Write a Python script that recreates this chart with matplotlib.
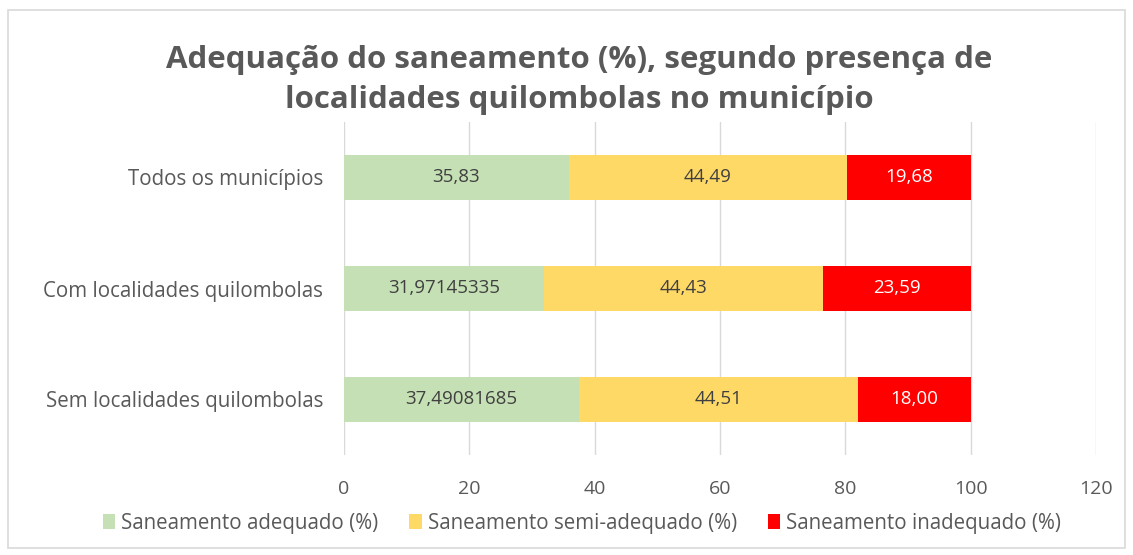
import numpy as np
import matplotlib
matplotlib.use("Agg")
import matplotlib.pyplot as plt
from matplotlib.patches import Rectangle

plt.rcParams['font.family'] = ['Open Sans', 'DejaVu Sans']

categories = ["Sem localidades quilombolas", "Com localidades quilombolas", "Todos os municípios"]
adequado = [37.49081685, 31.97145335, 35.83]
semi = [44.51, 44.43, 44.49]
inadequado = [18.00, 23.59, 19.68]
lab_adequado = ["37,49081685", "31,97145335", "35,83"]
lab_semi = ["44,51", "44,43", "44,49"]
lab_inadequado = ["18,00", "23,59", "19,68"]
series_names = ["Saneamento adequado (%)", "Saneamento semi-adequado (%)", "Saneamento inadequado (%)"]
colors = ["#C5E0B4", "#FFD966", "#FF0000"]

txt = "#595959"

fig = plt.figure(figsize=(11.33, 5.55), dpi=100)
fig.patches.append(Rectangle((8/1133, 1 - 548/555), 1117/1133, 538/555, transform=fig.transFigure,
                             fill=False, edgecolor="#D9D9D9", linewidth=1.2))
ax = fig.add_axes([344/1133, 1 - 455/555, (1096 - 344)/1133, (455 - 122)/555])

y = np.arange(len(categories))
h = 0.4
b1 = ax.barh(y, adequado, height=h, color=colors[0], label=series_names[0], zorder=3)
b2 = ax.barh(y, semi, height=h, left=adequado, color=colors[1], label=series_names[1], zorder=3)
left3 = np.array(adequado) + np.array(semi)
b3 = ax.barh(y, inadequado, height=h, left=left3, color=colors[2], label=series_names[2], zorder=3)

ax.bar_label(b1, labels=lab_adequado, label_type="center", color="#404040", fontsize=13.5)
ax.bar_label(b2, labels=lab_semi, label_type="center", color="#404040", fontsize=13.5)
ax.bar_label(b3, labels=lab_inadequado, label_type="center", color="white", fontsize=13.5)

ax.set_xlim(0, 120)
ax.set_ylim(-0.5, 2.5)
ax.set_xticks(np.arange(0, 121, 20))
ax.set_yticks(y)
ax.set_yticklabels(categories)
ax.tick_params(axis="both", length=0, colors=txt)
ax.tick_params(axis="y", pad=15, labelsize=14.8)
ax.tick_params(axis="x", pad=18, labelsize=14)
ax.grid(axis="x", color="#D9D9D9", linewidth=1, zorder=0)
for s in ax.spines.values():
    s.set_visible(False)

fig.text(579/1133, 1 - 80/555, "Adequação do saneamento (%), segundo presença de\nlocalidades quilombolas no município",
         ha="center", va="center", fontsize=22.5, fontweight="bold", color=txt, linespacing=1.42)

fig.legend(loc="center", bbox_to_anchor=(582/1133, 1 - 523/555), ncol=3, frameon=False,
           fontsize=14.8, labelcolor=txt, handlelength=0.6, handleheight=0.7,
           handletextpad=0.3, columnspacing=1.5)

fig.savefig("out.png", dpi=100)
